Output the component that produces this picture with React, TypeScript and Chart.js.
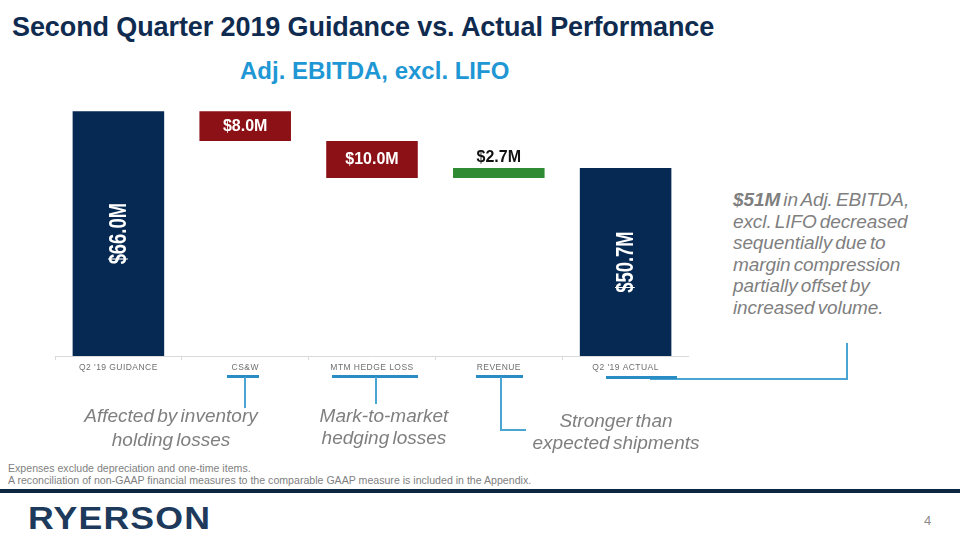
import React, { useEffect, useRef } from "react";
import { Chart, registerables } from "chart.js";

Chart.register(...registerables);

// ---- data ----
const categories = ["Q2 '19 GUIDANCE", "CS&W", "MTM HEDGE LOSS", "REVENUE", "Q2 '19 ACTUAL"];
const barStart = [0, 58, 48, 48, 0];
const barEnd = [66, 66, 58, 50.7, 50.7];
const barKinds = ["total", "decrease", "decrease", "increase", "total"];
const barLabels = ["$66.0M", "$8.0M", "$10.0M", "$2.7M", "$50.7M"];
const yMin = 0;
const yMax = 75;

const kindColors: Record<string, string> = {
  total: "#062953",
  decrease: "#8c1116",
  increase: "#2f8b34",
};

const SANS = '"Liberation Sans", Arial, Helvetica, sans-serif';

const tickSpacingPlugin = {
  id: "tickSpacing",
  beforeDraw(chart: any) {
    chart.ctx.letterSpacing = "0.45px";
  },
  beforeDatasetsDraw(chart: any) {
    chart.ctx.letterSpacing = "0px";
  },
};

const barLabelPlugin = {
  id: "barLabels",
  afterDatasetsDraw(chart: any) {
    const ctx = chart.ctx;
    const meta = chart.getDatasetMeta(0);
    meta.data.forEach((bar: any, i: number) => {
      const { x, y, base } = bar.getProps(["x", "y", "base"], true);
      const top = Math.min(y, base);
      const bottom = Math.max(y, base);
      const cy = (top + bottom) / 2;
      const kind = barKinds[i];
      ctx.save();
      ctx.letterSpacing = "0px";
      ctx.textAlign = "center";
      ctx.textBaseline = "middle";
      if (kind === "total") {
        ctx.translate(x, cy);
        ctx.rotate(-Math.PI / 2);
        ctx.scale(0.8, 1);
        ctx.font = `bold 23px ${SANS}`;
        ctx.fillStyle = "#ffffff";
        ctx.fillText(barLabels[i], 0, 1);
      } else if (kind === "decrease") {
        ctx.font = `bold 16px ${SANS}`;
        ctx.fillStyle = "#ffffff";
        ctx.fillText(barLabels[i], x, cy);
      } else {
        ctx.font = `bold 16px ${SANS}`;
        ctx.fillStyle = "#111111";
        ctx.fillText(barLabels[i], x, top - 10);
      }
      ctx.restore();
    });
  },
};

function WaterfallChart() {
  const ref = useRef<HTMLCanvasElement | null>(null);
  useEffect(() => {
    if (!ref.current) return;
    const chart = new Chart(ref.current, {
      type: "bar",
      data: {
        labels: categories,
        datasets: [
          {
            data: barStart.map((s, i) => [s, barEnd[i]]) as any,
            backgroundColor: barKinds.map((k) => kindColors[k]),
            borderWidth: 0,
            barPercentage: 0.722,
            categoryPercentage: 1,
          },
        ],
      },
      options: {
        responsive: false,
        maintainAspectRatio: false,
        animation: false,
        layout: { padding: 0 },
        plugins: {
          legend: { display: false },
          tooltip: { enabled: false },
          title: { display: false },
        },
        scales: {
          x: {
            offset: true,
            afterFit(scale: any) {
              scale.height = 30;
            },
            grid: {
              display: true,
              drawOnChartArea: false,
              drawTicks: true,
              tickLength: 4,
              offset: true,
              color: "#d9d9d9",
            },
            border: { display: true, color: "#d9d9d9", width: 1 },
            ticks: {
              autoSkip: false,
              maxRotation: 0,
              minRotation: 0,
              padding: 3,
              color: "#6f6f6f",
              font: { family: SANS, size: 8.5 },
            },
          },
          y: {
            display: false,
            min: yMin,
            max: yMax,
          },
        },
      },
      plugins: [tickSpacingPlugin, barLabelPlugin],
    });
    return () => chart.destroy();
  }, []);
  return <canvas ref={ref} width={634} height={308} style={{ position: "absolute", left: 55, top: 78, width: 634, height: 308 }} />;
}

const annoText: React.CSSProperties = {
  position: "absolute",
  fontFamily: SANS,
  fontStyle: "italic",
  fontSize: 19,
  color: "#7f7f7f",
  textAlign: "center",
  wordSpacing: -2,
  whiteSpace: "nowrap",
};

const underline = (left: number, top: number, width: number): React.CSSProperties => ({
  position: "absolute",
  left,
  top,
  width,
  height: 3,
  background: "#2a8cc4",
});

const vline = (left: number, top: number, height: number): React.CSSProperties => ({
  position: "absolute",
  left,
  top,
  width: 2,
  height,
  background: "#4aa5d2",
});

const hline = (left: number, top: number, width: number): React.CSSProperties => ({
  position: "absolute",
  left,
  top,
  width,
  height: 2,
  background: "#4aa5d2",
});

export default function App() {
  return (
    <div
      style={{
        position: "fixed",
        left: 0,
        top: 0,
        width: 960,
        height: 540,
        background: "#ffffff",
        overflow: "hidden",
        fontFamily: SANS,
      }}
    >
      <div
        style={{
          position: "absolute",
          left: 12,
          top: 14,
          fontSize: 27,
          lineHeight: "27px",
          fontWeight: "bold",
          color: "#0f2b50",
          letterSpacing: -0.1,
          whiteSpace: "nowrap",
        }}
      >
        Second Quarter 2019 Guidance vs. Actual Performance
      </div>
      <div
        style={{
          position: "absolute",
          left: 240,
          top: 59,
          fontSize: 24,
          lineHeight: "24px",
          fontWeight: "bold",
          color: "#1f97d4",
          whiteSpace: "nowrap",
        }}
      >
        Adj. EBITDA, excl. LIFO
      </div>

      <WaterfallChart />

      {/* annotation connectors */}
      <div style={underline(227, 375, 32)} />
      <div style={vline(244, 377, 31)} />
      <div style={underline(332, 375, 86)} />
      <div style={vline(375, 377, 27)} />
      <div style={underline(476, 375, 47)} />
      <div style={vline(500, 377, 54)} />
      <div style={hline(500, 429, 26)} />
      <div style={hline(650, 378, 198)} />
      <div style={underline(606, 376, 71)} />
      <div style={vline(846, 343, 37)} />

      <div style={{ ...annoText, left: 71, width: 200, top: 404, lineHeight: "24px" }}>
        Affected by inventory
        <br />
        holding losses
      </div>
      <div style={{ ...annoText, left: 284, width: 200, top: 405, lineHeight: "22px" }}>
        Mark-to-market
        <br />
        hedging losses
      </div>
      <div style={{ ...annoText, left: 516, width: 200, top: 410, lineHeight: "22px" }}>
        Stronger than
        <br />
        expected shipments
      </div>

      <div
        style={{
          position: "absolute",
          left: 733,
          top: 189,
          fontSize: 19,
          lineHeight: "21.6px",
          fontStyle: "italic",
          color: "#7f7f7f",
          whiteSpace: "nowrap",
          wordSpacing: -2,
          letterSpacing: -0.1,
        }}
      >
        <b>$51M</b> in Adj. EBITDA,
        <br />
        excl. LIFO decreased
        <br />
        sequentially due to
        <br />
        margin compression
        <br />
        partially offset by
        <br />
        increased volume.
      </div>

      <div
        style={{
          position: "absolute",
          left: 8,
          top: 462,
          fontSize: 10.6,
          lineHeight: "12px",
          color: "#7f7f7f",
          whiteSpace: "nowrap",
        }}
      >
        Expenses exclude depreciation and one-time items.
        <br />
        A reconciliation of non-GAAP financial measures to the comparable GAAP measure is included in the Appendix.
      </div>

      <div style={{ position: "absolute", left: 0, top: 489, width: 960, height: 4, background: "#0d2640" }} />

      <div
        style={{
          position: "absolute",
          left: 28,
          top: 503,
          fontSize: 31,
          lineHeight: "31px",
          fontWeight: "bold",
          color: "#1d3a5c",
          letterSpacing: 1,
          whiteSpace: "nowrap",
          transform: "scaleX(1.15)",
          transformOrigin: "left top",
        }}
      >
        RYERSON
      </div>
      <div
        style={{
          position: "absolute",
          left: 924,
          top: 514,
          fontSize: 13,
          lineHeight: "13px",
          color: "#8c8c8c",
        }}
      >
        4
      </div>
    </div>
  );
}
